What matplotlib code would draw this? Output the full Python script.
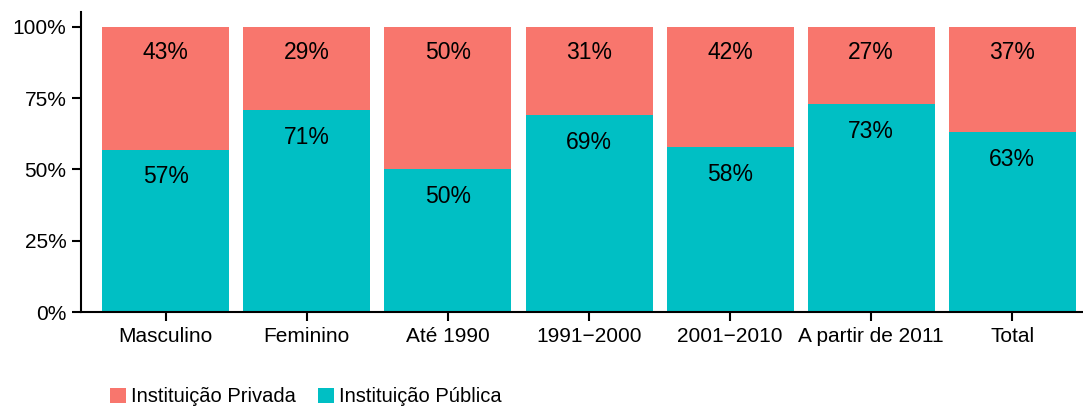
import matplotlib
matplotlib.use('Agg')
import matplotlib.pyplot as plt
from matplotlib.patches import Patch
from matplotlib.ticker import PercentFormatter

plt.rcParams['font.family'] = ['Liberation Sans', 'DejaVu Sans']

# dados
categorias = ['Masculino', 'Feminino', 'Até 1990', '1991\u22122000',
              '2001\u22122010', 'A partir de 2011', 'Total']
publica = [0.57, 0.71, 0.50, 0.69, 0.58, 0.73, 0.63]
privada = [0.43, 0.29, 0.50, 0.31, 0.42, 0.27, 0.37]
yticks = [0, 0.25, 0.5, 0.75, 1.0]

cor_privada = '#F8766D'
cor_publica = '#00BFC4'

fig = plt.figure(figsize=(10.83, 4.08), dpi=100)
ax = fig.add_axes([81/1083, 1-312/408, (1097-81)/1083, 300/408])

x = range(len(categorias))
ax.bar(x, publica, width=0.9, color=cor_publica, zorder=2)
ax.bar(x, privada, width=0.9, bottom=publica, color=cor_privada, zorder=2)

# rótulos no topo de cada segmento
for i in x:
    topo = publica[i] + privada[i]
    ax.text(i, topo - 0.088, '%d%%' % round(privada[i]*100), ha='center',
            va='center', fontsize=16.5, color='black', zorder=3)
    ax.text(i, publica[i] - 0.096, '%d%%' % round(publica[i]*100), ha='center',
            va='center', fontsize=16.5, color='black', zorder=3)

ax.set_xlim(-0.6, len(categorias) - 0.4)
ax.set_ylim(0, 1.0526)
ax.set_xticks(list(x))
ax.set_xticklabels(categorias)
ax.set_yticks(yticks)
ax.yaxis.set_major_formatter(PercentFormatter(1.0, decimals=0))

for s in ['top', 'right']:
    ax.spines[s].set_visible(False)
for s in ['left', 'bottom']:
    ax.spines[s].set_linewidth(1.5)
ax.tick_params(axis='both', length=6.5, width=1.5, labelsize=15,
               labelcolor='black', pad=4)

handles = [Patch(facecolor=cor_privada, label='Instituição Privada'),
           Patch(facecolor=cor_publica, label='Instituição Pública')]
fig.legend(handles=handles, loc='center left',
           bbox_to_anchor=(110/1083, 1-397/408), ncol=2, frameon=False,
           fontsize=14.5, handlelength=0.8, handleheight=0.8,
           handletextpad=0.25, columnspacing=1.1, borderpad=0,
           borderaxespad=0)

fig.savefig('out.png', dpi=100)
